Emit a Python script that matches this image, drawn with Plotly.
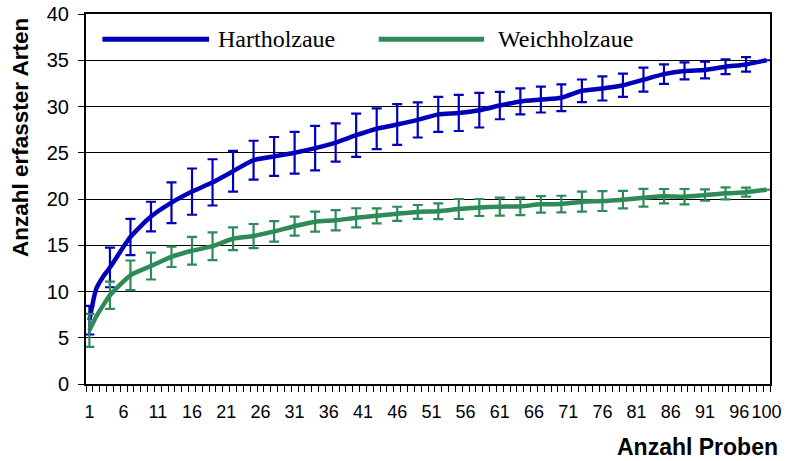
import plotly.graph_objects as go

# ---- data ----
proben = [1, 2, 3, 4, 7, 10, 13, 16, 19, 22, 25, 28, 31, 34, 37, 40, 43, 46, 49,
          52, 55, 58, 61, 64, 67, 70, 73, 76, 79, 82, 85, 88, 91, 94, 97, 100]

hart_mean = [6.9, 10.3, 11.6, 12.6, 15.9, 18.1, 19.6, 20.8, 21.8, 23.0, 24.2, 24.6, 25.0,
             25.5, 26.1, 26.9, 27.6, 28.05, 28.55, 29.15, 29.3, 29.6, 30.1, 30.55,
             30.75, 30.95, 31.7, 31.95, 32.3, 32.9, 33.5, 33.85, 33.95, 34.3, 34.55, 35.0]
hart_err = [1.55, None, None, 2.14, 1.96, 1.6, 2.2, 2.5, 2.5, 2.2, 2.1, 2.1, 2.25,
            2.4, 2.07, 2.34, 2.2, 2.2, 1.9, 1.9, 1.95, 1.87, 1.48, 1.4,
            1.4, 1.44, 1.22, 1.3, 1.26, 1.3, 1.05, 0.92, 0.9, 0.8, 0.78, 0.0]

weich_mean = [5.8, 7.3, 8.5, 9.6, 11.75, 12.75, 13.75, 14.4, 14.9, 15.7, 16.0, 16.5, 17.06,
              17.55, 17.7, 17.97, 18.18, 18.4, 18.6, 18.68, 18.92, 19.08, 19.17, 19.2,
              19.42, 19.45, 19.71, 19.78, 19.93, 20.13, 20.3, 20.25, 20.43, 20.61, 20.74, 21.0]
weich_err = [1.78, None, None, 1.47, 1.6, 1.45, 1.1, 1.5, 1.5, 1.23, 1.3, 1.1, 1.03,
             1.08, 1.1, 1.03, 0.81, 0.76, 0.75, 0.85, 1.08, 0.92, 0.97, 0.94,
             0.9, 0.9, 1.08, 1.08, 0.94, 0.96, 0.78, 0.83, 0.62, 0.65, 0.49, 0.0]

names = ["Hartholzaue", "Weichholzaue"]
colors = ["#0000BB", "#2E8B57"]

x_labels = list(range(1, 100, 5)) + [100]
y_ticks = list(range(0, 41, 5))

fig = go.Figure()

for name, col, ym, ye in [(names[0], colors[0], hart_mean, hart_err),
                          (names[1], colors[1], weich_mean, weich_err)]:
    ex = [p for p, e in zip(proben, ye) if e is not None]
    ey = [m for m, e in zip(ym, ye) if e is not None]
    ee = [e for e in ye if e is not None]
    fig.add_trace(go.Scatter(
        x=ex, y=ey, mode="markers", marker=dict(size=0.1, opacity=0),
        error_y=dict(type="data", array=ee, visible=True, color=col,
                     thickness=2.2, width=5),
        showlegend=False, hoverinfo="skip"))
    fig.add_trace(go.Scatter(
        x=proben, y=ym, mode="lines", name=name,
        line=dict(color=col, width=4.5, shape="spline", smoothing=0.6),
        showlegend=False))

# custom legend (long line samples like the original)
legend_items = [(0.024, 0.18, 0.19, names[0], colors[0]),
                (0.428, 0.582, 0.6, names[1], colors[1])]
for x0, x1, xt, txt, col in legend_items:
    fig.add_shape(type="line", xref="paper", yref="paper", x0=x0, x1=x1,
                  y0=0.932, y1=0.932, line=dict(color=col, width=5))
    fig.add_annotation(xref="paper", yref="paper", x=xt, y=0.932, text=txt,
                       showarrow=False, xanchor="left", yanchor="middle",
                       font=dict(family="Liberation Serif", size=24, color="black"))

fig.add_annotation(xref="paper", yref="paper", x=-0.095, y=0.665,
                   text="<b>Anzahl erfasster Arten</b>", textangle=-90,
                   showarrow=False, xanchor="center", yanchor="middle",
                   font=dict(family="Liberation Sans", size=22.5, color="black"))
fig.add_annotation(xref="paper", yref="paper", x=1.015, y=-0.17,
                   text="<b>Anzahl Proben</b>",
                   showarrow=False, xanchor="right", yanchor="middle",
                   font=dict(family="Liberation Sans", size=23, color="black"))

fig.update_layout(
    width=788, height=461,
    margin=dict(l=86, r=18, t=14, b=77),
    paper_bgcolor="white", plot_bgcolor="white",
    font=dict(family="Liberation Sans", size=19, color="black"),
    showlegend=False,
    xaxis=dict(range=[0.5, 100.5], tickmode="array", tickvals=x_labels,
               ticktext=[str(v) for v in x_labels], ticks="", ticklen=0,
               tickangle=0, tickfont=dict(size=18),
               automargin=False,
               showgrid=False, zeroline=False, showline=True, linecolor="black",
               linewidth=2, mirror=True, ticklabelstandoff=10,
               minor=dict(tickmode="array", tickvals=[0.5 + i for i in range(101)],
                          ticks="outside", ticklen=6, tickcolor="black",
                          tickwidth=1, showgrid=False)),
    yaxis=dict(range=[0, 40], tickmode="array", tickvals=y_ticks,
               ticks="outside", ticklen=6, tickcolor="black", automargin=False,
               tickfont=dict(size=20), ticklabelstandoff=5,
               showgrid=True, gridcolor="black", gridwidth=1,
               zeroline=False, showline=True, linecolor="black",
               linewidth=2, mirror=True),
)

fig.write_html("out.html")
